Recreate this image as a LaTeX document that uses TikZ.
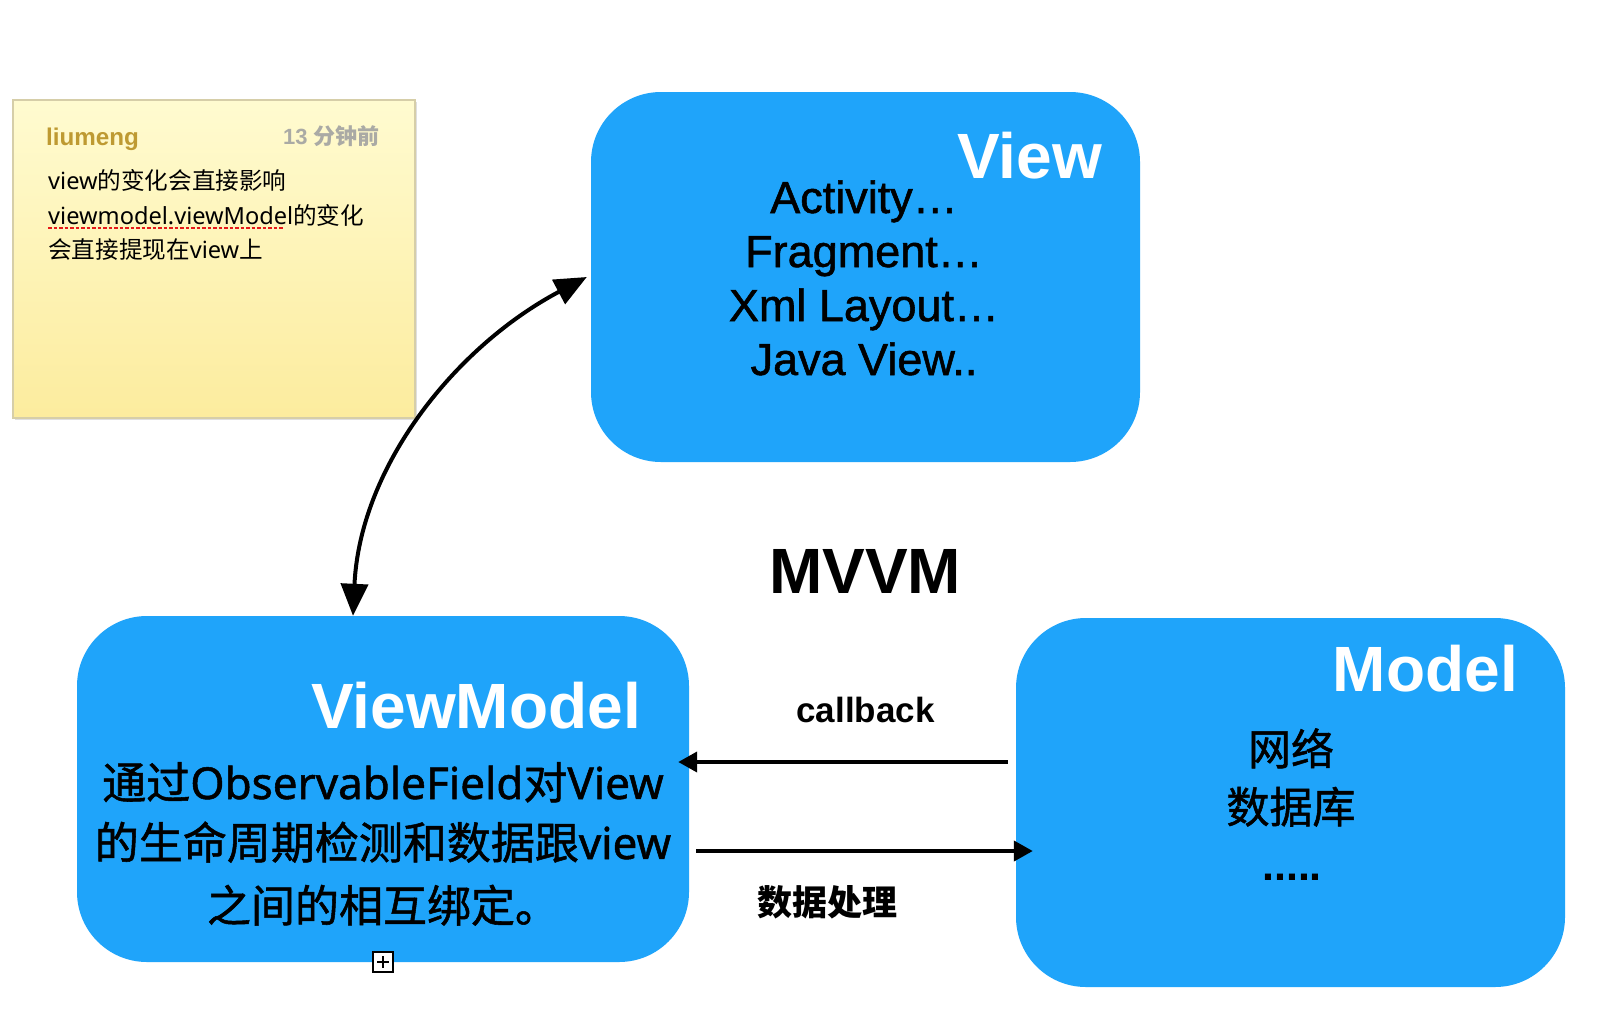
\documentclass[tikz,border=0pt]{standalone}
\usepackage{fontspec}
\setmainfont{Liberation Sans}
\newfontfamily\cjk{Noto Sans CJK SC}
\newfontfamily\cjkm[FakeBold=1.2]{Noto Sans CJK SC}
\newfontfamily\lat{Noto Sans}
\newfontfamily\latm[FakeBold=1.2]{Noto Sans}
\newfontfamily\med[FakeBold=1.2]{Liberation Sans}
\usetikzlibrary{arrows.meta,calc,shadows}
\definecolor{boxblue}{RGB}{31,164,250}
\definecolor{notetop}{RGB}{255,251,208}
\definecolor{notebot}{RGB}{252,236,158}
\definecolor{noteedge}{RGB}{214,206,168}
\definecolor{gold}{RGB}{190,154,50}
\definecolor{timegray}{RGB}{170,170,165}
\definecolor{spellred}{RGB}{230,25,25}
\tikzset{
  bluebox/.style={fill=boxblue, rounded corners=70pt, inner sep=0pt},
  ttl/.style={font=\bfseries\fontsize{64}{64}\selectfont, text=white, inner sep=0pt, anchor=base east},
  vtxt/.style={font=\med\fontsize{45}{45}\selectfont, inner sep=0pt, anchor=base},
  cjkline/.style={font=\fontsize{44}{44}\selectfont, inner sep=0pt, anchor=base},
  notetxt/.style={font=\fontsize{23.6}{23.6}\selectfont, inner sep=0pt, anchor=base west},
  link/.style={line width=4pt, -{Triangle[length=19pt,width=20pt]}},
  bilink/.style={line width=4pt, {Triangle[length=32pt,width=27pt]}-{Triangle[length=32pt,width=27pt]}},
}
\begin{document}
\begin{tikzpicture}[x=1pt,y=-1pt]
\useasboundingbox (0,0) rectangle (1608,1034);
\fill[white] (0,0) rectangle (1608,1034);

% sticky note
\node[minimum width=402pt, minimum height=318pt, inner sep=0pt,
      top color=notetop, bottom color=notebot, draw=noteedge, line width=1.2pt,
      drop shadow={shadow xshift=1.5pt, shadow yshift=-1.5pt, opacity=0.25}] (note) at (214,259) {};
\node[font=\bfseries\fontsize{24.2}{24.2}\selectfont, text=gold, inner sep=0pt, anchor=base west] (nuser) at (46,145) {liumeng};
\node[text=timegray, inner sep=0pt, anchor=base east] (ntime) at (380,144)
  {{\bfseries\fontsize{22}{22}\selectfont 13 }{\cjk\bfseries\fontsize{22}{22}\selectfont 分钟前}};
\node[notetxt] (nl1) at (48,189) {{\lat view}{\cjk 的变化会直接影响}};
\node[notetxt] (nl2) at (48,224) {{\lat viewmodel.viewModel}{\cjk 的变化}};
\node[notetxt] (nl3) at (48,258) {{\cjk 会直接提现在}{\lat view}{\cjk 上}};
\draw[spellred, line width=2.6pt, dash pattern=on 3.5pt off 2pt] (48,228) -- (284,228);

% boxes
\node[bluebox, minimum width=549pt, minimum height=370pt] (view) at (865.5,277) {};
\node[bluebox, minimum width=612pt, minimum height=346pt] (vm) at (383,789) {};
\node[bluebox, minimum width=549pt, minimum height=369pt] (model) at (1290.5,802.5) {};

% View contents
\node[ttl] (viewt) at (1102,178) {View};
\node[vtxt] (v1) at (864,213) {Activity…};
\node[vtxt] (v2) at (864,267) {Fragment…};
\node[vtxt] (v3) at (864,321) {Xml Layout…};
\node[vtxt] (v4) at (864,375) {Java View..};

% ViewModel contents
\node[ttl] (vmt) at (641,728) {ViewModel};
\node[cjkline] (vm1) at (383,799) {{\cjkm 通过}{\latm ObservableField}{\cjkm 对}{\latm View}};
\node[cjkline] (vm2) at (383,859) {{\cjkm 的生命周期检测和数据跟}{\latm view}};
\node[cjkline] (vm3) at (383,922) {{\cjkm 之间的相互绑定。}};

% Model contents
\node[ttl] (modelt) at (1518,691) {Model};
\node[font=\cjkm\fontsize{43}{43}\selectfont, inner sep=0pt, anchor=base] (m1) at (1291,765) {网络};
\node[font=\cjkm\fontsize{43}{43}\selectfont, inner sep=0pt, anchor=base] (m2) at (1291,823) {数据库};
\node[font=\bfseries\fontsize{43}{43}\selectfont, inner sep=0pt, anchor=base] (m3) at (1292,880) {.....};

% centre labels
\node[font=\bfseries\fontsize{64}{64}\selectfont, inner sep=0pt, anchor=base] (mvvm) at (865,593) {MVVM};
\node[font=\bfseries\fontsize{35}{35}\selectfont, inner sep=0pt, anchor=base] (cb) at (865.5,722) {callback};
\node[font=\cjk\bfseries\fontsize{35}{35}\selectfont, inner sep=0pt, anchor=base] (dp) at (827,915) {数据处理};

% connectors
\coordinate (cbY) at (0,762);
\coordinate (dpY) at (0,851);
\draw[link] ($(model.west |- cbY)+(-8,0)$) -- ($(vm.east |- cbY)+(-11,0)$);
\draw[link] ($(vm.east |- dpY)+(7,0)$) -- ($(model.west |- dpY)+(17,0)$);
\draw[bilink] ([xshift=-30pt]vm.north) .. controls +(7,-149) and +(-132,70) .. ([xshift=-4pt]view.west);

% expand marker
\node[draw=black, fill=white, line width=2pt, minimum size=20pt, inner sep=0pt] (expand) at (vm.south) {};
\draw[line width=2pt] ($(expand.center)+(-6,0)$) -- ($(expand.center)+(6,0)$);
\draw[line width=2pt] ($(expand.center)+(0,-6)$) -- ($(expand.center)+(0,6)$);
\end{tikzpicture}
\end{document}
